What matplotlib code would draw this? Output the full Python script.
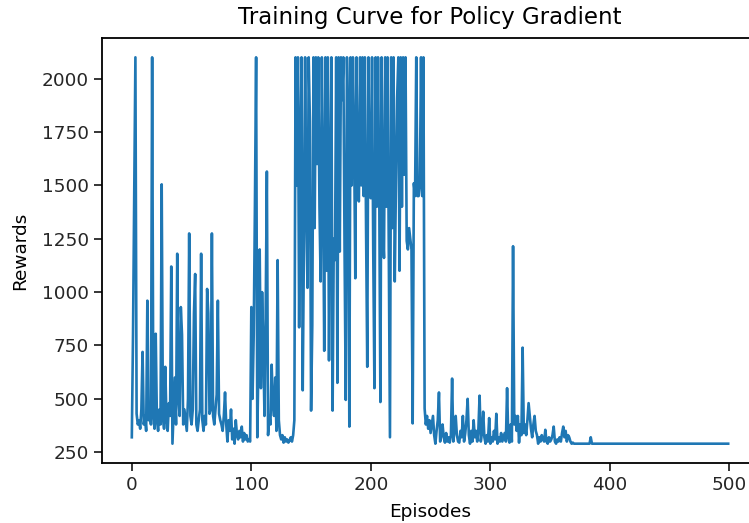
import matplotlib
matplotlib.use("Agg")
import matplotlib.pyplot as plt

# rewards per episode
early_rewards = [
    320, 800, 1450, 2100, 430, 380, 400, 360, 450, 720,
    380, 420, 350, 960, 400, 450, 380, 2100, 420, 360,
    805, 400, 350, 450, 380, 1505, 420, 360, 650, 400,
    350, 480, 420, 1120, 290, 450, 600, 380, 1180, 500,
    420, 930, 800, 380, 450, 400, 350, 500, 1275, 420,
    380, 450, 900, 1085, 380, 350, 400, 450, 1180, 400,
    350, 420, 380, 1015, 900, 430, 450, 1275, 420, 380,
    450, 520, 960, 430, 400, 380, 350, 420, 530, 380,
    300, 400, 350, 450, 310, 360, 290, 400, 330, 310,
    350, 320, 370, 300, 340, 310, 330, 300, 310, 300,
]

middle_rewards = [
    930, 500, 800, 1400, 2100, 320, 700, 1200, 550, 1000,
    750, 420, 900, 1565, 330, 420, 380, 660, 480, 420,
    600, 350, 1150, 400, 330, 310, 330, 295, 320, 300,
    310, 295, 305, 320, 300, 330, 400,
    2100, 1500, 2100, 835, 1705, 2100, 540, 1200, 2100, 1400,
    1020, 2100, 1800, 445, 845, 2100, 1300, 2100, 1600, 2100,
    1400, 1050, 2100, 1500, 725, 2100, 1100, 2100, 680, 1500,
    2100, 445, 1250, 1150, 2100, 575, 2100, 1190, 2100, 1900,
    2100, 1200, 495, 2100, 1800, 370, 2100, 1500, 2100, 1700,
    1065, 2100, 1450, 1425, 2100, 1500, 2100, 1450, 2100, 1300,
    650, 2100, 1450, 1440, 2100, 1200, 550, 2100, 1400, 2100,
    1500, 485, 2100, 1300, 1160, 2100, 1400, 2100, 1200, 320,
    2100, 1300, 2100, 1050, 1500, 1908, 2100, 1100, 2100, 1400,
    2100, 1550, 2100, 1240, 1200, 1300, 1250, 1200, 385, 1510,
    1450, 2100, 1450, 1450, 1500, 2100, 1450, 2100,
]

late_rewards = [
    455, 380, 420, 360, 400, 340, 380, 420, 330, 290,
    350, 400, 530, 300, 330, 380, 320, 295, 340, 300,
    320, 295, 330, 595, 300, 350, 420, 330, 300, 295,
    350, 320, 420, 300, 340, 400, 500, 330, 290, 350,
    300, 400, 320, 350, 300, 360, 515, 300, 340, 440,
    320, 290, 330, 300, 410, 290, 320, 300, 350, 310,
    430, 290, 320, 300, 340, 300, 320, 340, 300, 550,
    320, 295, 380, 300, 1215, 380, 420, 350, 420, 295,
    380, 330, 740, 340, 380, 330, 400, 480, 420, 360,
    320, 380, 420, 350, 330, 290, 320, 300, 330, 310,
    300, 355, 300, 290, 320, 300, 310, 330, 370, 300,
    290, 310, 300, 320, 300, 340, 370, 320, 350, 300,
    330, 320, 300, 290, 295,
]

tail_rewards = [290] * 14 + [320] + [290] * 115

rewards = early_rewards + middle_rewards + late_rewards + tail_rewards
episodes = list(range(len(rewards)))


def main() -> None:
    fig = plt.figure(figsize=(7.49, 5.23), dpi=100)
    ax = fig.add_axes([102 / 749, (523 - 463) / 523, 656 / 749, 425 / 523])
    ax.plot(episodes, rewards, color="#1f77b4", linewidth=1.9)
    ax.set_title("Training Curve for Policy Gradient", fontsize=16.5, pad=10)
    ax.set_xlabel("Episodes", fontsize=13.3, labelpad=6)
    ax.set_ylabel("Rewards", fontsize=13.3, labelpad=9)
    ax.set_xticks([0, 100, 200, 300, 400, 500])
    ax.set_yticks([250, 500, 750, 1000, 1250, 1500, 1750, 2000])
    ax.tick_params(labelsize=13.3, length=6, width=1.3, colors="#262626")
    for sp in ax.spines.values():
        sp.set_linewidth(1.3)
    fig.savefig("out.png", dpi=100)
    plt.close(fig)


if __name__ == "__main__":
    main()
